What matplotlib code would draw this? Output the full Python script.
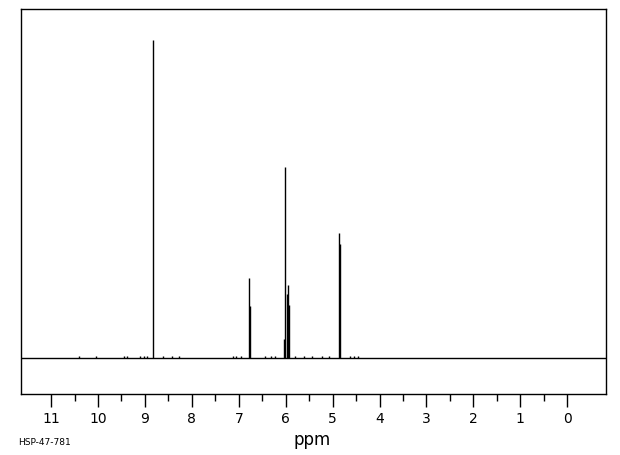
#=== BIBLIOTECAS ===
import matplotlib
matplotlib.use("Agg")
import matplotlib.pyplot as plt

#=== Dados lidos do espectro ===
# posicoes dos picos (ppm) e intensidades relativas (pico maior = 100)
picos_ppm = [8.82, 6.79, 6.77, 6.03, 6.01, 5.97, 5.95, 5.94, 4.86, 4.85]
picos_int = [100.0, 25.3, 16.4, 6.0, 60.1, 20.0, 23.0, 16.7, 39.4, 36.0]

# pequenos ruidos ao longo da linha de base
ruido_ppm = [10.4, 10.05, 9.45, 9.38, 9.1, 9.02, 8.95, 8.62, 8.42, 8.28,
             7.12, 7.05, 6.95, 6.45, 6.32, 6.22, 5.8, 5.62, 5.45, 5.22,
             5.08, 4.62, 4.55, 4.45]
ruido_int = [0.6, 0.5, 0.5, 0.6, 0.5, 0.6, 0.7, 0.5, 0.5, 0.6,
             0.5, 0.6, 0.5, 0.6, 0.5, 0.6, 0.5, 0.6, 0.5, 0.6,
             0.5, 0.7, 0.5, 0.6]

ticks_maiores = list(range(0, 12))
ticks_menores = [i + 0.5 for i in range(0, 11)]

#=== Figura ===
fig = plt.figure(figsize=(6.2, 4.55), dpi=100)
ax = fig.add_axes([0.034, 0.134, 0.943, 0.846])

ax.axhline(0, color="black", lw=1.0)
ax.vlines(picos_ppm, 0, picos_int, color="black", lw=1.0)
ax.vlines(ruido_ppm, 0, ruido_int, color="black", lw=1.0)

ax.set_xlim(11.64, -0.82)
ax.set_ylim(-11.3, 109.7)

for s in ax.spines.values():
    s.set_linewidth(1.0)

ax.set_yticks([])
ax.set_xticks(ticks_maiores)
ax.set_xticklabels([str(t) for t in ticks_maiores])
ax.set_xticks(ticks_menores, minor=True)
ax.tick_params(axis="x", which="major", direction="out", length=9, width=1.0,
               pad=4, labelsize=10)
ax.tick_params(axis="x", which="minor", direction="out", length=5, width=1.0)

fig.text(0.503, 0.033, "ppm", ha="center", va="center", fontsize=12)
fig.text(0.030, 0.027, "HSP-47-781", ha="left", va="center", fontsize=6.5)

plt.savefig("out.png", dpi=100)
